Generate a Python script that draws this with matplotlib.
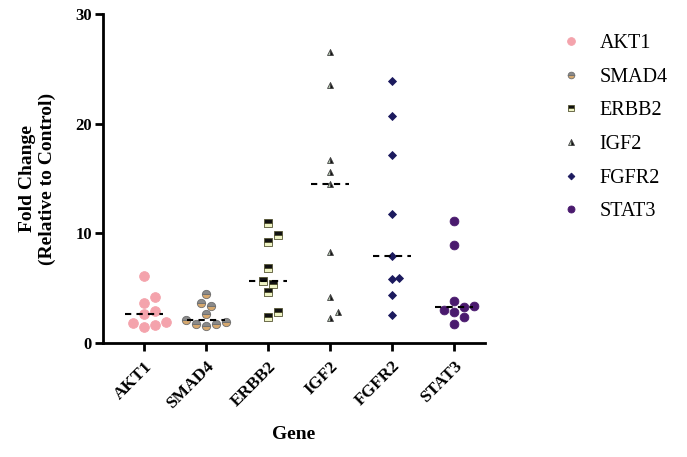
import numpy as np
import matplotlib
matplotlib.use("Agg")
import matplotlib.pyplot as plt

genes = ["AKT1", "SMAD4", "ERBB2", "IGF2", "FGFR2", "STAT3"]
akt1 = [6.13, 4.22, 3.67, 2.94, 2.64, 1.94, 1.85, 1.64, 1.43]
smad4 = [4.44, 3.62, 3.37, 2.61, 2.10, 1.94, 1.73, 1.73, 1.55]
erbb2 = [10.91, 9.85, 9.23, 6.81, 5.68, 5.38, 4.62, 2.85, 2.40]
igf2 = [26.55, 23.52, 16.68, 15.62, 14.49, 8.27, 4.17, 2.85, 2.31]
fgfr2 = [23.91, 20.69, 17.14, 11.76, 7.93, 5.90, 5.81, 4.38, 2.55]
stat3 = [11.15, 8.93, 3.86, 3.40, 3.30, 3.01, 2.85, 2.34, 1.70]
series = [akt1, smad4, erbb2, igf2, fgfr2, stat3]
yticks = [0, 10, 20, 30]

styles = [
    dict(marker="o", ms=7.0, mfc="#F4A3AC", mec="#F4A3AC", fillstyle="full"),
    dict(marker="o", ms=6.0, mfc="#D6A86E", mfcalt="#8A8A8A", mec="#6F6F6F", fillstyle="bottom"),
    dict(marker="s", ms=6.2, mfc="#EEF3C4", mfcalt="#111111", mec="#555533", fillstyle="bottom"),
    dict(marker="^", ms=5.0, mfc="#B9CBB5", mfcalt="#111111", mec="#444444", fillstyle="left"),
    dict(marker="D", ms=4.3, mfc="#1C1A5E", mec="#1C1A5E", fillstyle="full"),
    dict(marker="o", ms=6.3, mfc="#4A1A6E", mec="#4A1A6E", fillstyle="full"),
]

W, H, DPI = 687, 457, 100
fig = plt.figure(figsize=(W / DPI, H / DPI), dpi=DPI)
ax = fig.add_axes([103 / W, 1 - 343 / H, (485 - 103) / W, (343 - 14) / H])
ax.set_xlim(-0.66, 5.5)
ax.set_ylim(0, 30)

px_per_cat = (485 - 103) / 6.16
px_per_unit = (343 - 14) / 30.0


def swarm(vals, diam_px):
    order = np.argsort(vals)
    placed = []
    offs = np.zeros(len(vals))
    cands = [0.0]
    for n in range(1, 20):
        cands += [n * diam_px * 0.5, -n * diam_px * 0.5]
    for i in order:
        y = vals[i] * px_per_unit
        for c in cands:
            ok = all((c - px) ** 2 + (y - py) ** 2 >= (diam_px * 0.9) ** 2
                     for px, py in placed)
            if ok:
                offs[i] = c
                placed.append((c, y))
                break
    return offs / px_per_cat


for i, (vals, st) in enumerate(zip(series, styles)):
    v = np.array(vals)
    diam = st["ms"] * DPI / 72 + 1.5
    xo = swarm(v, diam) + i
    kw = dict(linestyle="none", marker=st["marker"], markersize=st["ms"],
              markerfacecolor=st["mfc"], markeredgecolor=st["mec"],
              markeredgewidth=0.6, fillstyle=st["fillstyle"], zorder=3)
    if "mfcalt" in st:
        kw["markerfacecoloralt"] = st["mfcalt"]
    ax.plot(xo, v, label=genes[i], **kw)
    med = np.median(v)
    ax.plot([i - 0.3, i + 0.3], [med, med], color="black", lw=1.5,
            linestyle=(0, (3, 2.5)), zorder=4)

serif = ["Liberation Serif", "DejaVu Serif"]
ax.set_xticks(range(len(genes)))
ax.set_xticklabels(genes, rotation=45, ha="right", rotation_mode="anchor",
                   fontfamily=serif, fontweight="bold", fontsize=12.5)
ax.set_yticks(yticks)
ax.set_yticklabels([str(t) for t in yticks], fontfamily=serif,
                   fontweight="bold", fontsize=12)
ax.tick_params(axis="both", direction="out", length=6, width=2, color="black")
ax.tick_params(axis="x", pad=5)
ax.tick_params(axis="y", pad=2)
for s in ["top", "right"]:
    ax.spines[s].set_visible(False)
for s in ["left", "bottom"]:
    ax.spines[s].set_linewidth(2)

ax.set_ylabel("Fold Change\n(Relative to Control)", fontfamily=serif,
              fontweight="bold", fontsize=14, labelpad=14)
ax.set_xlabel("Gene", fontfamily=serif, fontweight="bold", fontsize=14, labelpad=10)

leg = ax.legend(loc="upper left", bbox_to_anchor=(541 / W, 1 - 16 / H),
                bbox_transform=fig.transFigure, frameon=False,
                prop={"family": serif, "size": 14.5}, handlelength=1.2,
                handletextpad=0.8, labelspacing=0.72, markerscale=0.8)

fig.savefig("out.png", dpi=DPI)
